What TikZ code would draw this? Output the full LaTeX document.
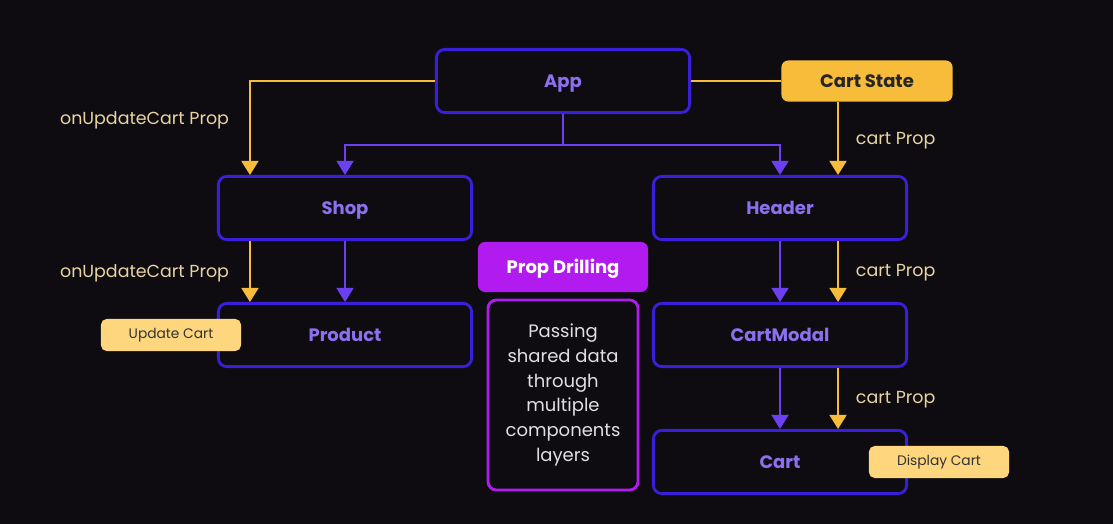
\documentclass[tikz,border=0pt]{standalone}
\usepackage{fontspec}
\setmainfont{Poppins}
\usetikzlibrary{arrows.meta, positioning}

\definecolor{bgdark}{HTML}{0E0C11}
\definecolor{boxblue}{HTML}{3A1FD9}
\definecolor{comptext}{HTML}{8E6FF0}
\definecolor{flowpurple}{HTML}{6A40F0}
\definecolor{propgold}{HTML}{F6BC3A}
\definecolor{labelgold}{HTML}{E9D4A2}
\definecolor{notegold}{HTML}{FDD67D}
\definecolor{drillpink}{HTML}{B21BEF}

\begin{document}
\begin{tikzpicture}[x=0.025cm, y=-0.025cm,
        comp/.style={rectangle, draw=boxblue, line width=2pt, rounded corners=6pt, minimum height=1.58cm, minimum width=6.33cm, text height=2ex, text depth=0.2ex, text=comptext, font=\fontsize{12.8}{15}\selectfont\bfseries},
        note/.style={rectangle, fill=notegold, rounded corners=4pt, minimum height=0.8cm, minimum width=3.5cm, text=black!80, font=\fontsize{9.8}{11}\selectfont},
        proplabel/.style={text=labelgold, font=\fontsize{12.4}{14}\selectfont},
        flow/.style={-{Triangle[width=12pt, length=10pt]}, flowpurple, line width=1.6pt},
        propflow/.style={-{Triangle[width=12pt, length=10pt]}, propgold, line width=1.6pt}
    ]
        % Background
        \fill[bgdark] (0,0) rectangle (1113,524);

        % Components
        \node[comp] (app) at (563,81) {App};
        \node[comp] (shop) at (345,208) {Shop};
        \node[comp] (header) at (780,208) {Header};
        \node[comp] (product) at (345,335) {Product};
        \node[comp] (cartmodal) at (780,335) {CartModal};
        \node[comp] (cart) at (780,462) {Cart};

        % State and notes
        \node[rectangle, fill=propgold, rounded corners=5pt, minimum height=1.03cm, minimum width=4.28cm, text height=2ex, text depth=0.2ex, font=\fontsize{12.8}{15}\selectfont\bfseries, text=black!85] (cartstate) at (867,81) {Cart State};
        \node[note] (updatecart) at (171,335) {Update Cart};
        \node[note] (displaycart) at (939,462) {Display Cart};

        % Prop Drilling
        \node[rectangle, fill=drillpink, rounded corners=5pt, minimum height=1.25cm, minimum width=4.25cm, text height=2ex, text depth=0.2ex, text=white, font=\fontsize{12.8}{15}\selectfont\bfseries] (drill) at (563,267) {Prop Drilling};
        \node[rectangle, draw=drillpink, line width=2pt, rounded corners=6pt, minimum height=4.75cm, minimum width=3.75cm, text=white!88!black, align=center, font=\fontsize{12.8}{17.7}\selectfont] (drilldesc) at (563,395) {Passing\\shared data\\through\\multiple\\components\\layers};

        % Lanes for the props
        \coordinate (shoplane) at ([xshift=0.825cm]shop.north west);
        \coordinate (headerlane) at ([xshift=-1.75cm]header.north east);

        % Component tree
        \draw[flow] (app.south) -- ++(0,31) -| (shop.north);
        \draw[flow] (app.south) -- ++(0,31) -| (header.north);
        \draw[flow] (shop.south) -- (product.north);
        \draw[flow] (header.south) -- (cartmodal.north);
        \draw[flow] (cartmodal.south) -- (cart.north);

        % Props
        \draw[propgold, line width=1.6pt] (app.east) -- (cartstate.west);
        \draw[propflow] (app.west) -| (shoplane);
        \draw[propflow] (shop.south -| shoplane) -- (product.north -| shoplane);
        \draw[propflow] (cartstate.south -| headerlane) -- (headerlane);
        \draw[propflow] (header.south -| headerlane) -- (cartmodal.north -| headerlane);
        \draw[propflow] (cartmodal.south -| headerlane) -- (cart.north -| headerlane);

        % Prop labels
        \node[proplabel, anchor=east] (lblshop) at (234,120) {onUpdateCart Prop};
        \node[proplabel, anchor=east] (lblproduct) at (234,273) {onUpdateCart Prop};
        \node[proplabel, anchor=west] (lblheader) at (851,141) {cart Prop};
        \node[proplabel, anchor=west] (lblmodal) at (851,273) {cart Prop};
        \node[proplabel, anchor=west] (lblcart) at (851,400) {cart Prop};
\end{tikzpicture}
\end{document}
